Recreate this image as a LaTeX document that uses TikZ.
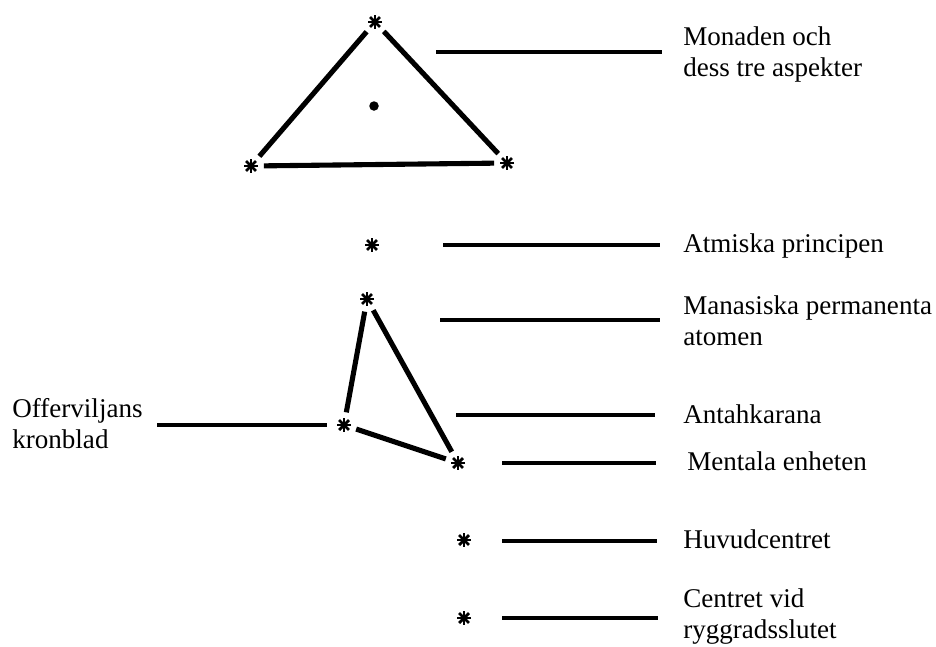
\documentclass[tikz,border=0pt]{standalone}
\usepackage{fontspec}
\setmainfont{Liberation Serif}
\usepackage{tikz}

\tikzset{
  ast/.style={circle, inner sep=0pt, minimum size=0.32cm,
    path picture={\foreach \a in {0,45,90,135}
      \draw[line width=1.6pt] (path picture bounding box.center) ++(\a:0.14cm) -- ++(\a+180:0.28cm);}},
  bond/.style={line width=2.9pt, shorten <=0.09cm, shorten >=0.09cm},
  lead/.style={line width=2pt},
  lbl/.style={anchor=base west, inner sep=0pt, align=left, font=\fontsize{15.4}{17.1}\selectfont},
}

\begin{document}
\begin{tikzpicture}[x=0.02cm, y=-0.02cm]
    \useasboundingbox (0,0) rectangle (936,646);
    % Monad triangle
    \node[ast] (t1) at (375,22) {};
    \node[ast] (t2) at (251,166) {};
    \node[ast] (t3) at (507,163) {};
    \node[circle, fill, inner sep=0pt, minimum size=0.19cm] (dot) at (374,106) {};
    \draw[bond] (t1) -- (t2);
    \draw[bond] (t1) -- (t3);
    \draw[bond] (t2) -- (t3);
    % Atmic and mental
    \node[ast] (atm) at (372,245) {};
    \node[ast] (man) at (367,299) {};
    \node[ast] (off) at (344,425) {};
    \node[ast] (ment) at (458,463) {};
    \draw[bond] (man) -- (off);
    \draw[bond] (man) -- (ment);
    \draw[bond] (off) -- (ment);
    % Centres
    \node[ast] (huv) at (464,540) {};
    \node[ast] (ctr) at (464,618) {};
    % Labels (two-line ones sit on their last baseline)
    \node[lbl] (mon) at (683,76) {Monaden och\\dess tre aspekter};
    \node[lbl] (atml) at (683,252) {Atmiska principen};
    \node[lbl] (manl) at (683,345) {Manasiska permanenta\\atomen};
    \node[lbl] (antl) at (683,423) {Antahkarana};
    \node[lbl] (mentl) at (687,470) {Mentala enheten};
    \node[lbl] (huvl) at (683,548) {Huvudcentret};
    \node[lbl] (ctrl) at (683,638) {Centret vid\\ryggradsslutet};
    \node[lbl] (offl) at (12,448) {Offerviljans\\kronblad};
    % Leader lines
    \coordinate (lmon) at (436,52);
    \coordinate (latm) at (443,245);
    \coordinate (lman) at (440,320);
    \coordinate (lant) at (456,415);
    \coordinate (lment) at (502,463);
    \coordinate (lhuv) at (502,541);
    \coordinate (lctr) at (502,618);
    \draw[lead, shorten >=0.42cm] (lmon) -- (lmon -| mon.west);
    \draw[lead, shorten >=0.46cm] (latm) -- (latm -| atml.west);
    \draw[lead, shorten >=0.46cm] (lman) -- (lman -| manl.west);
    \draw[lead, shorten >=0.56cm] (lant) -- (lant -| antl.west);
    \draw[lead, shorten >=0.62cm] (lment) -- (lment -| mentl.west);
    \draw[lead, shorten >=0.52cm] (lhuv) -- (lhuv -| huvl.west);
    \draw[lead, shorten >=0.50cm] (lctr) -- (lctr -| ctrl.west);
    \draw[lead, shorten <=0.18cm, shorten >=0.28cm] (off) -- (off -| offl.east);
\end{tikzpicture}
\end{document}
